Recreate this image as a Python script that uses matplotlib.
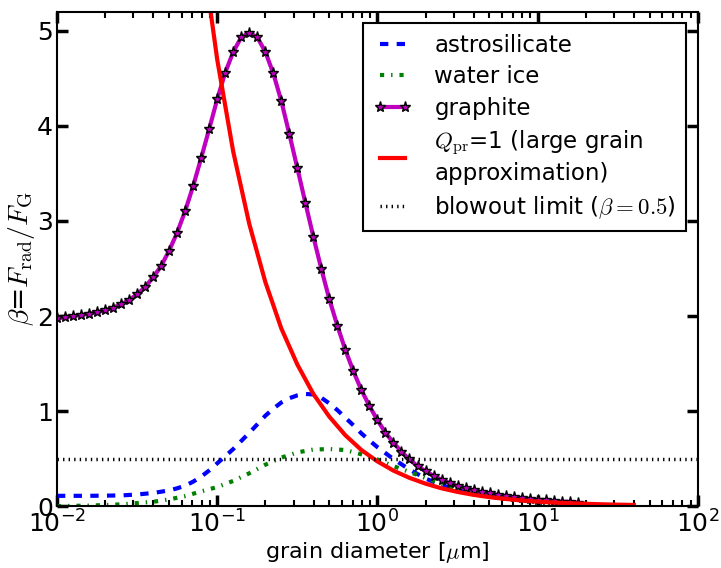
import numpy as np
import matplotlib
matplotlib.use("Agg")
import matplotlib.pyplot as plt

plt.rcParams['mathtext.fontset'] = 'cm'
plt.rcParams['font.family'] = ['DejaVu Sans']
plt.rcParams['lines.scale_dashes'] = False
plt.rcParams['lines.dashed_pattern'] = [6, 6]
plt.rcParams['lines.dashdot_pattern'] = [3, 5, 1, 5]
plt.rcParams['lines.dotted_pattern'] = [1, 3]

# graphite: diameters on a log grid (10^-2 ... 10^1.25, step 0.05 dex)
graphite_logd = np.round(np.arange(-2.0, 1.2501, 0.05), 2)
graphite_beta = [1.976, 1.986, 2.000, 2.010, 2.025, 2.042, 2.060, 2.088, 2.123, 2.168,
                 2.228, 2.305, 2.407, 2.526, 2.688, 2.877, 3.105, 3.368, 3.663, 3.968,
                 4.281, 4.561, 4.779, 4.933, 4.982, 4.933, 4.782, 4.554, 4.263, 3.916,
                 3.558, 3.193, 2.835, 2.495, 2.175, 1.898, 1.642, 1.418, 1.221, 1.053,
                 0.905, 0.772, 0.667, 0.572, 0.491, 0.421, 0.368, 0.319, 0.277, 0.242,
                 0.210, 0.186, 0.165, 0.147, 0.133, 0.119, 0.106, 0.094, 0.084, 0.075,
                 0.067, 0.060, 0.053, 0.047, 0.042, 0.037]

silicate_logd = [-2.0, -1.8, -1.6, -1.5, -1.4, -1.3, -1.25, -1.2, -1.15, -1.1, -1.05,
                 -1.0, -0.95, -0.9, -0.85, -0.8, -0.75, -0.7, -0.65, -0.6, -0.55, -0.5,
                 -0.45, -0.4, -0.35, -0.3, -0.25, -0.2, -0.15, -0.1, -0.05, 0.0, 0.1,
                 0.2, 0.3, 0.4, 0.5, 0.6, 0.7, 0.8, 1.0, 1.2, 1.3]
silicate_beta = [0.108, 0.108, 0.112, 0.122, 0.138, 0.165, 0.187, 0.215, 0.257, 0.31,
                 0.375, 0.45, 0.525, 0.60, 0.685, 0.77, 0.86, 0.95, 1.025, 1.09, 1.135,
                 1.165, 1.18, 1.175, 1.14, 1.08, 1.01, 0.93, 0.85, 0.765, 0.69, 0.62,
                 0.495, 0.385, 0.29, 0.22, 0.17, 0.13, 0.10, 0.08, 0.05, 0.032, 0.026]

ice_logd = [-2.0, -1.8, -1.6, -1.4, -1.3, -1.2, -1.1, -1.0, -0.9, -0.8, -0.7, -0.6, -0.5,
            -0.4, -0.3, -0.2, -0.1, 0.0, 0.1, 0.2, 0.3, 0.4, 0.5, 0.6, 0.7, 0.8, 1.0,
            1.2, 1.3]
ice_beta = [0.0, 0.005, 0.018, 0.045, 0.07, 0.105, 0.155, 0.20, 0.265, 0.345, 0.435,
            0.51, 0.565, 0.595, 0.60, 0.59, 0.545, 0.49, 0.42, 0.36, 0.295, 0.235,
            0.175, 0.135, 0.105, 0.08, 0.05, 0.032, 0.026]

qpr1_logd = [-1.1, -1.0, -0.9, -0.8, -0.7, -0.6, -0.5, -0.4, -0.3, -0.2, -0.1, 0.0,
             0.1, 0.2, 0.3, 0.4, 0.5, 0.6, 0.7, 0.8, 0.9, 1.0, 1.1, 1.2, 1.3, 1.4,
             1.5, 1.6]
qpr1_beta = [5.92, 4.70, 3.73, 2.97, 2.36, 1.87, 1.49, 1.18, 0.94, 0.745, 0.59, 0.47,
             0.373, 0.297, 0.236, 0.187, 0.149, 0.118, 0.094, 0.075, 0.059, 0.047,
             0.037, 0.030, 0.024, 0.019, 0.015, 0.012]

blowout_beta = 0.5

fig = plt.figure(figsize=(7.21, 5.68), dpi=100)
ax = fig.add_axes([0.079, 0.109, 0.889, 0.870])

ax.plot(10 ** np.array(silicate_logd), silicate_beta, linestyle='--', color='b', lw=3,
        dash_capstyle='butt', label='astrosilicate')
ax.plot(10 ** np.array(ice_logd), ice_beta, linestyle='-.', color='g', lw=3,
        dash_capstyle='butt', label='water ice')
ax.plot(10 ** graphite_logd, graphite_beta, '-', color='m', lw=3, marker='*', ms=8,
        mfc='m', mec='k', mew=1, label='graphite')
ax.plot(10 ** np.array(qpr1_logd), qpr1_beta, '-', color='r', lw=3,
        label='$Q_{\\rm pr}$=1 (large grain\napproximation)')
ax.axhline(blowout_beta, color='k', linestyle=':', lw=2.5, dash_capstyle='butt',
           label='blowout limit ($\\beta=0.5$)')

ax.set_xscale('log')
ax.set_xlim(1e-2, 1e2)
ax.set_ylim(0, 5.2)
ax.set_yticks([0, 1, 2, 3, 4, 5])

ax.tick_params(which='major', direction='in', length=8, width=2.5, top=True, right=True,
               labelsize=18, pad=3)
ax.tick_params(which='minor', direction='in', length=4, width=1.5, top=True, right=True)
for sp in ax.spines.values():
    sp.set_linewidth(1.5)

ax.set_xlabel('grain diameter [$\\mu$m]', fontsize=16, labelpad=2)
ax.set_ylabel('$\\beta$=$F_{\\rm rad}/F_{\\rm G}$', fontsize=20, labelpad=0)

leg = ax.legend(loc='upper right', fontsize=16.5, numpoints=2, handlelength=1.65,
                handletextpad=1.0, borderpad=0.45, labelspacing=0.38,
                fancybox=False, framealpha=1, borderaxespad=0.5)
leg.get_frame().set_edgecolor('k')
leg.get_frame().set_linewidth(1.5)
for t in leg.get_texts():
    t.set_linespacing(1.25)

fig.savefig('out.png', dpi=100)
